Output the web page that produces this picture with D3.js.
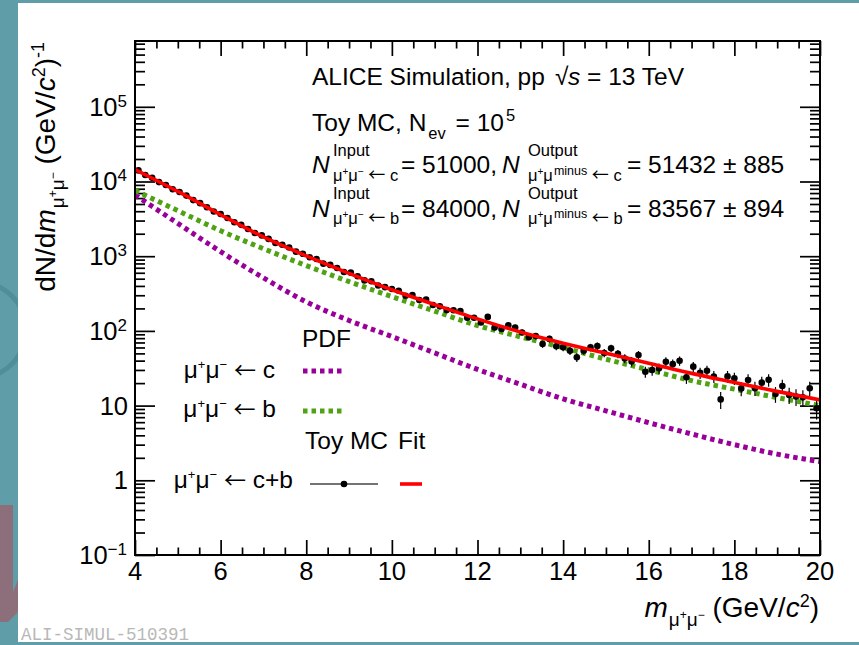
<!DOCTYPE html>
<html>
<head>
<meta charset="utf-8">
<script src="https://cdn.jsdelivr.net/npm/d3@7"></script>
<style>
  html, body { margin: 0; padding: 0; background: #5f9ea8; }
  svg { display: block; }
  text { font-family: "Liberation Sans", Arial, Helvetica, sans-serif; fill: #000; }
</style>
</head>
<body>
<svg id="chart" width="859" height="645"></svg>
<script>
// ---- data -------------------------------------------------------------
// Toy MC histogram: 100 bins of 0.16 GeV/c^2 between 4 and 20 GeV/c^2
const binLow = 4, binWidth = 0.16;
const toyCounts = [
  14070, 12200, 11200, 9820, 8980, 7870, 7230, 6470, 5640, 5130,
  4520, 3960, 3670, 3250, 2850, 2630, 2310, 2040, 1900, 1705,
  1500, 1420, 1310, 1150, 1077, 967, 918, 795, 765, 694,
  613, 602, 539, 474, 462, 405, 385, 363, 345, 296,
  303, 259, 262, 222, 213, 190, 189, 185, 150, 150,
  130, 154, 111, 106, 119, 111, 95.3, 82.3, 85.3, 66.7,
  78.2, 62.3, 60.3, 54.3, 44.3, 54.4, 60.1, 62.6, 50.7, 58.5,
  49.3, 42.8, 39.0, 47.6, 28.4, 30.0, 31.6, 38.7, 35.9, 39.8,
  23.9, 33.2, 27.4, 29.3, 24.5, 12.1, 24.6, 23.2, 17.0, 22.0,
  17.1, 20.3, 22.1, 14.3, 18.3, 13.9, 13.2, 12.9, 17.1, 9.2
];
const toyErrors = [
  107, 99, 95, 89, 85, 80, 77, 72, 68, 64,
  60, 57, 55, 51, 48, 46, 43, 41, 39, 37,
  35, 34, 33, 31, 30, 28, 27, 25, 25, 24,
  22, 22, 21, 20, 19, 18, 18, 17, 17, 15,
  16, 14, 15, 13, 13, 12, 12, 12, 11, 11,
  10, 11, 9.5, 9.3, 9.8, 9.5, 8.8, 8.2, 8.3, 7.4,
  8.0, 7.1, 7.0, 6.6, 6.0, 6.6, 7.0, 7.1, 6.4, 6.9,
  6.3, 5.9, 5.6, 6.2, 4.8, 4.9, 5.1, 5.6, 5.4, 5.7,
  4.4, 5.2, 4.7, 4.9, 4.5, 3.1, 4.5, 4.3, 3.7, 4.2,
  3.7, 4.1, 4.2, 3.4, 3.9, 3.4, 3.3, 3.2, 3.7, 2.7
];

// PDF templates and fit result, sampled every 1 GeV/c^2
const curveMass = [4, 5, 6, 7, 8, 9, 10, 11, 12, 13, 14, 15, 16, 17, 18, 19, 20];
const charmPdf  = [6610, 2750, 1150, 513, 245, 138, 84.1, 50.7, 30.5, 19.3, 12.3, 8.5, 5.9, 4.17, 3.0, 2.24, 1.78];
const beautyPdf = [7590, 4070, 2190, 1260, 748, 457, 288, 184, 118, 83.4, 59.7, 41.8, 30.1, 21.6, 16.6, 12.8, 10.0];
const fitCurve  = [14500, 7360, 3590, 1810, 1010, 590, 355, 225, 145, 96.6, 68.4, 50.1, 37.0, 27.0, 20.4, 15.5, 11.9];

const xMajorTicks = [4, 6, 8, 10, 12, 14, 16, 18, 20];
const yDecades = [0.1, 1, 10, 100, 1000, 10000, 100000];
const yTickLabels = [["10", "\u22121"], ["1", null], ["10", null], ["10", "2"], ["10", "3"], ["10", "4"], ["10", "5"]];

// ---- layout -----------------------------------------------------------
const W = 859, H = 645;
const L = 135, R = 820, T = 41, B = 555;
const purple = "#990099", green = "#4fa312", red = "#ff0000";
const ARROW_FONT = "'Noto Sans CJK JP', 'DejaVu Sans', sans-serif";

const svg = d3.select("#chart");

// page background
svg.append("rect").attr("width", W).attr("height", H).attr("fill", "#5f9ea8");
svg.append("circle").attr("cx", -22).attr("cy", 330).attr("r", 48)
  .attr("fill", "none").attr("stroke", "#4f8f99").attr("stroke-width", 5);
svg.append("path").attr("d", "M0,505 L13,505 L13,592 L18,580 L18,612 L8,622 L0,622 Z")
  .attr("fill", "#8c6f7b");
svg.append("rect").attr("x", 18).attr("y", 3).attr("width", W - 18).attr("height", 639).attr("fill", "#ffffff");

const x = d3.scaleLinear().domain([4, 20]).range([L, R]);
const y = d3.scaleLog().domain([0.1, 7.6e5]).range([B, T]);

// ---- axes (ticks pointing inward on all four sides) ---------------------
const xMinor = d3.range(4, 20.001, 0.5).filter(v => Math.abs(v / 2 - Math.round(v / 2)) > 1e-6);
const yMinor = [];
for (let e = -1; e <= 5; e++) for (let k = 2; k <= 9; k++) {
  const v = k * Math.pow(10, e);
  if (v < 7.6e5) yMinor.push(v);
}

function styleAxis(g) {
  g.select(".domain").remove();
  g.selectAll(".tick text").remove();
  g.selectAll(".tick line").attr("stroke", "#000").attr("stroke-width", 1.7);
}
const axes = svg.append("g");
axes.append("g").attr("transform", `translate(0,${B})`)
  .call(d3.axisBottom(x).tickValues(xMajorTicks).tickSizeInner(-15).tickSizeOuter(0)).call(styleAxis);
axes.append("g").attr("transform", `translate(0,${B})`)
  .call(d3.axisBottom(x).tickValues(xMinor).tickSizeInner(-7.5).tickSizeOuter(0)).call(styleAxis);
axes.append("g").attr("transform", `translate(0,${T})`)
  .call(d3.axisTop(x).tickValues(xMajorTicks).tickSizeInner(-15).tickSizeOuter(0)).call(styleAxis);
axes.append("g").attr("transform", `translate(0,${T})`)
  .call(d3.axisTop(x).tickValues(xMinor).tickSizeInner(-7.5).tickSizeOuter(0)).call(styleAxis);
axes.append("g").attr("transform", `translate(${L},0)`)
  .call(d3.axisLeft(y).tickValues(yDecades).tickSizeInner(-20).tickSizeOuter(0)).call(styleAxis);
axes.append("g").attr("transform", `translate(${L},0)`)
  .call(d3.axisLeft(y).tickValues(yMinor).tickSizeInner(-10).tickSizeOuter(0)).call(styleAxis);
axes.append("g").attr("transform", `translate(${R},0)`)
  .call(d3.axisRight(y).tickValues(yDecades).tickSizeInner(-20).tickSizeOuter(0)).call(styleAxis);
axes.append("g").attr("transform", `translate(${R},0)`)
  .call(d3.axisRight(y).tickValues(yMinor).tickSizeInner(-10).tickSizeOuter(0)).call(styleAxis);

// ---- text helper: parts with baseline offsets (positive = down) ----------
function rich(sel, parts, baseSize) {
  let cur = 0;
  parts.forEach(p => {
    const off = p.o || 0;
    const ts = sel.append("tspan").text(p.t).attr("dy", off - cur)
      .attr("font-size", p.s || baseSize);
    cur = off;
    if (p.i) ts.attr("font-style", "italic");
    if (p.dx) ts.attr("dx", p.dx);
    if (p.f) ts.style("font-family", p.f);
  });
  return sel;
}
function put(xp, yp, parts, size, anchor) {
  const t = svg.append("text").attr("x", xp).attr("y", yp)
    .attr("text-anchor", anchor || "start").attr("font-size", size);
  return rich(t, parts, size);
}

// tick labels
xMajorTicks.forEach(v => put(x(v), 580, [{ t: String(v) }], 25.5, "middle"));
yDecades.forEach((v, i) => {
  const [base, exp] = yTickLabels[i];
  const parts = [{ t: base }];
  if (exp) parts.push({ t: exp, s: 17, o: -9 });
  put(exp ? 127 : 128, y(v) + 9, parts, 25.5, "end");
});

// axis titles
const titleSize = 28;
const muSub = [
  { t: "\u03bc", s: 19, o: 9, dx: 1 }, { t: "+", s: 12, o: 2 },
  { t: "\u03bc", s: 19, o: 9 }, { t: "\u2212", s: 12, o: 2 }
];
put(R - 1, 617, [
  { t: "m", i: true }, ...muSub,
  { t: " (GeV/", o: 0 }, { t: "c", i: true }, { t: "2", s: 18, o: -10 }, { t: ")", o: 0 }
], titleSize, "end");

const yTitle = svg.append("text").attr("transform", `translate(55,${T + 1}) rotate(-90)`)
  .attr("text-anchor", "end").attr("font-size", titleSize);
rich(yTitle, [
  { t: "dN/d" }, { t: "m", i: true }, ...muSub,
  { t: " (GeV/", o: 0 }, { t: "c", i: true }, { t: "2", s: 18, o: -10 }, { t: ")", o: 0 },
  { t: "-1", s: 18, o: -11 }
], titleSize);

// ---- plotted marks ----------------------------------------------------
svg.append("clipPath").attr("id", "plotClip").append("rect")
  .attr("x", L).attr("y", T).attr("width", R - L).attr("height", B - T);
const plot = svg.append("g").attr("clip-path", "url(#plotClip)");

const line = d3.line().x(d => x(d[0])).y(d => y(d[1])).curve(d3.curveMonotoneX);

plot.append("path").datum(curveMass.map((m, i) => [m, charmPdf[i]]))
  .attr("d", line).attr("fill", "none").attr("stroke", purple)
  .attr("stroke-width", 5).attr("stroke-dasharray", "4.5,4");
plot.append("path").datum(curveMass.map((m, i) => [m, beautyPdf[i]]))
  .attr("d", line).attr("fill", "none").attr("stroke", green)
  .attr("stroke-width", 5).attr("stroke-dasharray", "4.5,4");

const toy = toyCounts.map((v, i) => ({ m: binLow + binWidth * (i + 0.5), v, e: toyErrors[i] }));
plot.append("g").selectAll("line").data(toy).join("line")
  .attr("x1", d => x(d.m)).attr("x2", d => x(d.m))
  .attr("y1", d => y(d.v + d.e)).attr("y2", d => y(Math.max(d.v - d.e, 0.11)))
  .attr("stroke", "#000").attr("stroke-width", 1.2);
plot.append("g").selectAll("circle").data(toy).join("circle")
  .attr("cx", d => x(d.m)).attr("cy", d => y(d.v)).attr("r", 3.3).attr("fill", "#000");

plot.append("path").datum(curveMass.map((m, i) => [m, fitCurve[i]]))
  .attr("d", line).attr("fill", "none").attr("stroke", red).attr("stroke-width", 3.6);

// frame
svg.append("rect").attr("x", L).attr("y", T).attr("width", R - L).attr("height", B - T)
  .attr("fill", "none").attr("stroke", "#000").attr("stroke-width", 2);

// ---- header text ----------------------------------------------------------
const fs = 24.5, fsSub = 16.5;
put(312, 85, [{ t: "ALICE Simulation, pp " }], fs);
put(555, 85, [{ t: "\u221a" }], fs);
put(568, 85, [{ t: "s", i: true }, { t: " = 13 TeV" }], fs);
put(312, 131, [{ t: "Toy MC, N" }, { t: "ev", s: fsSub, o: 8, dx: 2 },
  { t: " = 10", o: 0, dx: 3 }, { t: "5", s: fsSub, o: -10, dx: 2 }], fs);

function yieldLine(yb, src, input, output, err) {
  const tail = [{ t: " ", o: 0 }, { t: "\u2190", s: 17, f: ARROW_FONT }, { t: " " + src }];
  put(312, yb, [{ t: "N", i: true }], fs);
  put(333, yb - 17.5, [{ t: "Input" }], fsSub);
  put(333, yb + 7.5, [{ t: "\u03bc" }, { t: "+", s: 10, o: -6 }, { t: "\u03bc", o: 0 },
    { t: "\u2212", s: 10, o: -6 }, ...tail], fsSub);
  put(401, yb, [{ t: "= " + input + "," }], fs);
  put(502, yb, [{ t: "N", i: true }], fs);
  put(528, yb - 17.5, [{ t: "Output" }], fsSub);
  put(528, yb + 7.5, [{ t: "\u03bc" }, { t: "+", s: 10, o: -6 }, { t: "\u03bc", o: 0 },
    { t: "minus", s: 12.5, o: -6, dx: 1 }, ...tail], fsSub);
  put(627, yb, [{ t: "= " + output + " \u00b1 " + err }], fs);
}
yieldLine(173, "c", "51000", "51432", "885");
yieldLine(216.5, "b", "84000", "83567", "894");

// ---- legend -------------------------------------------------------------
const muPair = (tail) => [{ t: "\u03bc" }, { t: "+", s: 13, o: -9 }, { t: "\u03bc", o: 0 },
  { t: "\u2212", s: 13, o: -9 }, { t: " ", o: 0 }, { t: "\u2190", f: ARROW_FONT, s: 22 }, { t: " " + tail }];
put(302, 347, [{ t: "PDF" }], fs);
put(275, 378, muPair("c"), fs, "end");
put(276, 417, muPair("b"), fs, "end");
put(305, 449, [{ t: "Toy MC" }], fs);
put(398, 449, [{ t: "Fit" }], fs);
put(293, 488, muPair("c+b"), fs, "end");

const leg = svg.append("g");
leg.append("line").attr("x1", 303).attr("x2", 343).attr("y1", 371).attr("y2", 371)
  .attr("stroke", purple).attr("stroke-width", 5).attr("stroke-dasharray", "4.5,4");
leg.append("line").attr("x1", 303).attr("x2", 343).attr("y1", 411).attr("y2", 411)
  .attr("stroke", green).attr("stroke-width", 5).attr("stroke-dasharray", "4.5,4");
leg.append("line").attr("x1", 310).attr("x2", 378).attr("y1", 484).attr("y2", 484)
  .attr("stroke", "#444").attr("stroke-width", 1.5);
leg.append("circle").attr("cx", 344).attr("cy", 484).attr("r", 3.3).attr("fill", "#000");
leg.append("line").attr("x1", 400).attr("x2", 422).attr("y1", 484).attr("y2", 484)
  .attr("stroke", red).attr("stroke-width", 3.6);

// figure id
svg.append("text").attr("x", 21).attr("y", 640).attr("font-size", 17.5)
  .style("font-family", "'Liberation Mono', 'DejaVu Sans Mono', monospace")
  .style("fill", "#b8b8b8").text("ALI-SIMUL-510391");
</script>
</body>
</html>
